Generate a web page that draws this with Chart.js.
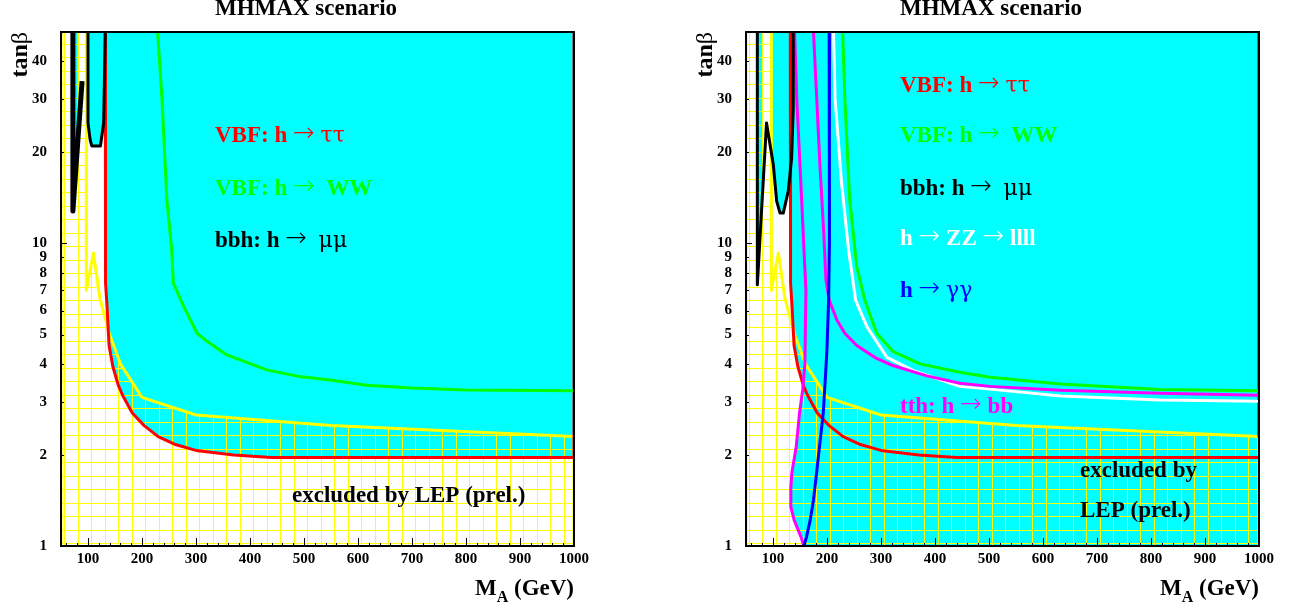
<!DOCTYPE html>
<html>
<head>
<meta charset="utf-8">
<script src="https://cdn.jsdelivr.net/npm/chart.js@4.4.1/dist/chart.umd.min.js"></script>
<style>
  html, body { margin: 0; padding: 0; background: #fff; }
  .panel { position: absolute; top: 0; width: 646px; height: 610px; }
</style>
</head>
<body>
<div class="panel" style="left:0"><canvas id="left"></canvas></div>
<div class="panel" style="left:646px"><canvas id="right"></canvas></div>
<script>
// axis ticks
const xTicks = [100, 200, 300, 400, 500, 600, 700, 800, 900, 1000];
const yTicks = [1, 2, 3, 4, 5, 6, 7, 8, 9, 10, 20, 30, 40];

// LEP exclusion (yellow), same in both panels
const lepX = [50, 50, 97, 97, 110, 122, 140, 160, 200, 300, 550, 1000, 1000];
const lepY = [1, 50, 50, 7.0, 9.3, 6.6, 5.0, 4.0, 3.1, 2.71, 2.5, 2.3, 1];

// VBF h -> tautau (red)
const redX = [132, 132, 133, 135, 139, 146, 156, 164, 182, 204, 230, 260, 300, 370, 440, 1000];
const redY = [50, 9.5, 7.4, 6.3, 4.6, 3.92, 3.4, 3.15, 2.75, 2.5, 2.3, 2.17, 2.07, 2.0, 1.96, 1.96];
const redEdgeX = [1000, 1000];
const redEdgeY = [1.96, 50];

// left panel: VBF h -> WW (green) and bbh h -> mumu (black)
const greenLX = [229, 237, 246, 255, 258, 277, 302, 317, 357, 431, 492, 548, 616, 700, 800, 1000];
const greenLY = [50, 30, 14, 9.5, 7.4, 6.2, 5.05, 4.8, 4.28, 3.82, 3.63, 3.54, 3.4, 3.33, 3.28, 3.26];
const blackAX = [72, 72, 89];
const blackAY = [50, 12.8, 34.4];
const sliverLX = [72, 72, 81, 81];
const sliverLY = [50, 12.8, 22, 50];
const blackUX = [100, 100, 104, 107, 123, 129, 132];
const blackUY = [50, 25, 22, 21, 21, 25, 50];

// right panel
const greenRX = [229, 233, 242, 255, 270, 292, 322, 372, 446, 502, 632, 817, 1000];
const greenRY = [50, 30, 14, 8.4, 6.5, 5.05, 4.4, 4.0, 3.75, 3.61, 3.43, 3.29, 3.26];
const whiteX = [212, 215, 227, 240, 253, 274, 311, 360, 446, 502, 632, 817, 1000];
const whiteY = [50, 30, 15.8, 9.5, 6.5, 5.3, 4.2, 3.8, 3.37, 3.3, 3.13, 3.04, 3.01];
const mag1X = [140, 144, 153, 158, 161, 159, 155, 149, 143, 135, 133, 133, 139, 152, 157];
const mag1Y = [50, 30, 14, 9, 7.0, 4.0, 3.28, 2.74, 2.13, 1.75, 1.55, 1.35, 1.22, 1.07, 1.0];
const mag2X = [175, 178, 187, 194, 198, 204, 218, 233, 255, 292, 322, 385, 446, 502, 632, 817, 1000];
const mag2Y = [50, 38.7, 18, 10.8, 7.6, 6.5, 5.6, 5.05, 4.6, 4.17, 3.95, 3.65, 3.45, 3.37, 3.27, 3.2, 3.15];
const blueX = [204, 205, 204, 203, 200, 197, 193, 187, 180, 175, 169, 162, 157];
const blueY = [50, 30, 10, 6.5, 4.5, 3.6, 2.74, 2.2, 1.7, 1.42, 1.22, 1.07, 1.0];
const blueEdgeX = [1000, 1000];
const blueEdgeY = [50, 2.3];
const blackRX = [71, 71, 88, 100.6, 106.8, 113, 119, 128.3, 134.5, 137.5, 137.5];
const blackRY = [50, 7.3, 25, 18.2, 13.8, 12.6, 12.6, 14.9, 19.2, 28, 50];
const sliverRX = [71, 71, 80, 80];
const sliverRY = [50, 7.3, 14, 50];
const cupRX = [97, 97, 100.6, 106.8, 113, 119, 128.3, 134.5, 137.5, 137.5];
const cupRY = [50, 19.9, 18.2, 13.8, 12.6, 12.6, 14.9, 19.2, 28, 50];
// left edge of the covered (cyan) area: red, then tth lower branch
const coverRX = [132, 132, 133, 135, 139, 146, 156, 155, 149, 143, 135, 133, 133, 139, 152, 157];
const coverRY = [50, 9.5, 7.4, 6.3, 4.6, 3.92, 3.35, 3.28, 2.74, 2.13, 1.75, 1.55, 1.35, 1.22, 1.07, 1.0];

const CYAN = '#00ffff';
const FONT = '"Liberation Serif", "DejaVu Serif", serif';
const GREEK = '"DejaVu Serif", serif';
const ARROWF = '"DejaVu Sans", sans-serif';
const NONE = 'rgba(0,0,0,0)';

function pts(xs, ys) {
  return xs.map((x, i) => ({ x: x, y: ys[i] }));
}

function hatch(ox, oy) {
  const c = document.createElement('canvas');
  c.width = 27; c.height = 27;
  const g = c.getContext('2d');
  g.fillStyle = '#ffff00';
  [ox, ox + 14].forEach(v => g.fillRect(v % 27, 0, 1, 27));
  [oy, oy + 14].forEach(v => g.fillRect(0, v % 27, 27, 1));
  return g.createPattern(c, 'repeat');
}

function area(xs, ys, bg, fill, order, extra) {
  return Object.assign({
    data: pts(xs, ys), fill: fill, backgroundColor: bg, borderColor: NONE,
    borderWidth: 0, pointRadius: 0, order: order
  }, extra || {});
}

function curve(xs, ys, color, width, order, extra) {
  return Object.assign({
    data: pts(xs, ys), fill: false, borderColor: color, borderWidth: width,
    pointRadius: 0, order: order, borderJoinStyle: 'round'
  }, extra || {});
}

// yellow border of the LEP area, without the top edge
const lepLine = (order) => curve(lepX, lepY, '#ffff00', 3, order, {
  segment: { borderColor: c => c.p0DataIndex === 1 ? NONE : undefined }
});

const framePlugin = {
  id: 'frame',
  afterDatasetsDraw(chart) {
    const { ctx, chartArea: a, scales: { x, y } } = chart;
    ctx.save();
    ctx.strokeStyle = '#000';
    ctx.lineWidth = 1;
    ctx.beginPath();
    for (let v = 60; v <= 1000; v += 20) {
      const px = Math.round(x.getPixelForValue(v)) + 0.5;
      const len = v % 100 === 0 ? 8 : 3;
      ctx.moveTo(px, a.bottom);
      ctx.lineTo(px, a.bottom - len);
    }
    yTicks.forEach(v => {
      const py = Math.round(y.getPixelForValue(v)) + 0.5;
      const len = (v === 1 || v === 10) ? 6 : 3;
      ctx.moveTo(a.left, py);
      ctx.lineTo(a.left + len, py);
    });
    ctx.stroke();
    ctx.lineWidth = 2;
    ctx.strokeRect(a.left, a.top, a.right - a.left, a.bottom - a.top);
    ctx.restore();
  }
};

// parts: [text, weight, size, dy, family]
function drawRich(ctx, x, y, parts, color, size) {
  ctx.fillStyle = color;
  parts.forEach(p => {
    ctx.font = p[1] + ' ' + (p[2] || size) + 'px ' + (p[4] || FONT);
    ctx.fillText(p[0], x, y + (p[3] || 0));
    x += ctx.measureText(p[0]).width;
  });
}

const ARW = ['→', '200', 26, -1, ARROWF];
const gr = (t) => [t, 'normal', 22, 0, GREEK];

function textPlugin(items) {
  return {
    id: 'texts',
    afterDraw(chart) {
      const { ctx, chartArea: a } = chart;
      ctx.save();
      ctx.textAlign = 'left';
      ctx.textBaseline = 'alphabetic';
      items.forEach(it => drawRich(ctx, a.left + it.dx, it.y, it.parts, it.color, 23));
      // title
      drawRich(ctx, a.left + 154, 15, [['MHMAX scenario', 'bold']], '#000', 23);
      // x title, right aligned
      const xt = [['M', 'bold', 23], ['A', 'bold', 16, 7], [' (GeV)', 'bold', 23]];
      let w = 0;
      xt.forEach(p => { ctx.font = 'bold ' + p[2] + 'px ' + FONT; w += ctx.measureText(p[0]).width; });
      drawRich(ctx, a.right - w, 595, xt, '#000', 23);
      // y title, rotated
      ctx.font = 'bold 24px ' + FONT;
      let tw = ctx.measureText('tan').width;
      ctx.font = 'normal 24px ' + FONT;
      tw += ctx.measureText('β').width;
      ctx.translate(a.left - 34, 32 + tw);
      ctx.rotate(-Math.PI / 2);
      drawRich(ctx, 0, 0, [['tan', 'bold'], ['β', 'normal']], '#000', 24);
      ctx.restore();
    }
  };
}

function options(leftW, rightPad) {
  const tickFont = { family: FONT, size: 15, weight: 'bold' };
  return {
    responsive: true, maintainAspectRatio: false, animation: false, events: [],
    layout: { padding: { left: 0, right: rightPad, top: 32, bottom: 24 } },
    plugins: { legend: { display: false }, tooltip: { enabled: false } },
    scales: {
      x: {
        type: 'linear', min: 50, max: 1000,
        afterBuildTicks: s => { s.ticks = xTicks.map(v => ({ value: v })); },
        afterFit: s => { s.height = 40; },
        grid: { display: false, drawTicks: false }, border: { display: false },
        ticks: { autoSkip: false, maxRotation: 0, padding: 4, color: '#000', font: tickFont, callback: v => String(v) }
      },
      y: {
        type: 'logarithmic', min: 1, max: 50,
        afterBuildTicks: s => { s.ticks = yTicks.map(v => ({ value: v })); },
        afterFit: s => { s.width = leftW; },
        grid: { display: false, drawTicks: false }, border: { display: false },
        ticks: { autoSkip: false, padding: 14, color: '#000', font: tickFont, callback: v => String(v) }
      }
    }
  };
}

const lblTau = [['VBF: h ', 'bold'], ARW, [' ', 'normal'], gr('ττ')];
const lblWW = [['VBF: h ', 'bold'], ARW, ['  ', 'normal'], ['WW', 'bold']];
const lblMu = [['bbh: h ', 'bold'], ARW, ['  ', 'normal'], gr('μμ')];

// ---- left panel ----
new Chart(document.getElementById('left'), {
  type: 'line',
  data: {
    datasets: [
      area(redX, redY, CYAN, 'end', 30),
      area(blackUX, blackUY, CYAN, 'end', 29),
      area(sliverLX, sliverLY, CYAN, 'end', 28),
      area(lepX, lepY, hatch(10, 3), 'start', 20),
      lepLine(10),
      curve(redEdgeX, redEdgeY, '#ff0000', 3, 9),
      curve(greenLX, greenLY, '#00ff00', 3, 8),
      curve(redX, redY, '#ff0000', 3, 7),
      curve(blackAX, blackAY, '#000000', 5, 6),
      curve(blackUX, blackUY, '#000000', 3, 5)
    ]
  },
  options: options(61, 72),
  plugins: [framePlugin, textPlugin([
    { dx: 154, y: 142, color: '#ff0000', parts: lblTau },
    { dx: 154, y: 195, color: '#00ff00', parts: lblWW },
    { dx: 154, y: 247, color: '#000000', parts: lblMu },
    { dx: 231, y: 502, color: '#000000', parts: [['excluded by LEP (prel.)', 'bold']] }
  ])]
});

// ---- right panel ----
new Chart(document.getElementById('right'), {
  type: 'line',
  data: {
    datasets: [
      area(coverRX, coverRY, CYAN, { value: 1000 }, 30, { indexAxis: 'y' }),
      area(cupRX, cupRY, CYAN, 'end', 29),
      area(sliverRX, sliverRY, CYAN, 'end', 28),
      area(lepX, lepY, hatch(8, 3), 'start', 20),
      lepLine(10),
      curve(redX, redY, '#ff0000', 3, 9),
      curve(blueEdgeX, blueEdgeY, '#0000ff', 3, 8),
      curve(greenRX, greenRY, '#00ff00', 3, 7),
      curve(whiteX, whiteY, '#ffffff', 3, 6),
      curve(mag2X, mag2Y, '#ff00ff', 3, 5),
      curve(mag1X, mag1Y, '#ff00ff', 3, 4),
      curve(blueX, blueY, '#0000ff', 3, 3),
      curve(blackRX, blackRY, '#000000', 3, 2)
    ]
  },
  options: options(100, 33),
  plugins: [framePlugin, textPlugin([
    { dx: 154, y: 92, color: '#ff0000', parts: lblTau },
    { dx: 154, y: 142, color: '#00ff00', parts: lblWW },
    { dx: 154, y: 195, color: '#000000', parts: lblMu },
    { dx: 154, y: 245, color: '#ffffff', parts: [['h ', 'bold'], ARW, [' ', 'normal'], ['ZZ ', 'bold'], ARW, [' ', 'normal'], ['llll', 'bold']] },
    { dx: 154, y: 297, color: '#0000ff', parts: [['h ', 'bold'], ARW, [' ', 'normal'], gr('γγ')] },
    { dx: 154, y: 413, color: '#ff00ff', parts: [['tth: h ', 'bold'], ARW, [' ', 'normal'], ['bb', 'bold']] },
    { dx: 334, y: 477, color: '#000000', parts: [['excluded by', 'bold']] },
    { dx: 334, y: 517, color: '#000000', parts: [['LEP (prel.)', 'bold']] }
  ])]
});
</script>
</body>
</html>
